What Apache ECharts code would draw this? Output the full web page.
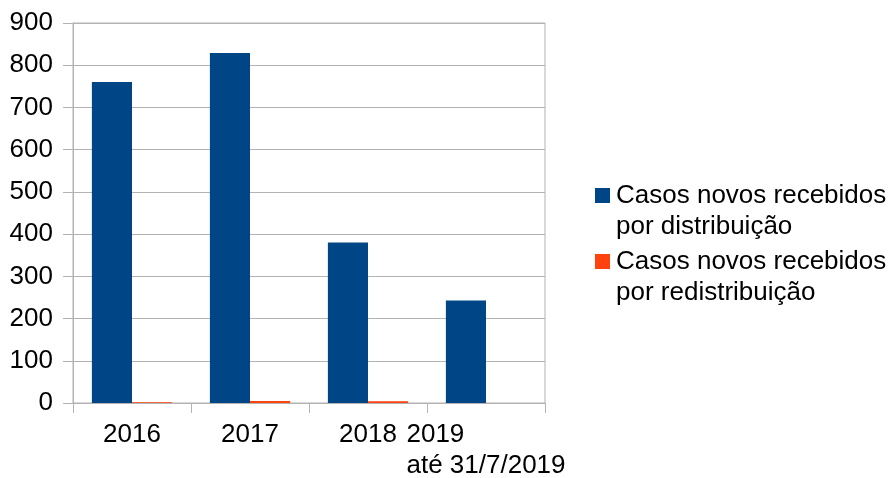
<!DOCTYPE html>
<html>
<head>
<meta charset="utf-8">
<script src="https://cdn.jsdelivr.net/npm/echarts@6/dist/echarts.min.js"></script>
<style>html,body{margin:0;padding:0;background:#fff;}#c{width:894px;height:478px;}</style>
</head>
<body>
<div id="c"></div>
<script>
const categories = ['2016', '2017', '2018', '2019\naté 31/7/2019'];
const seriesNames = ['Casos novos recebidos\npor distribuição', 'Casos novos recebidos\npor redistribuição'];
const distribuicao = [760, 829, 380, 243];
const redistribuicao = [2, 5, 4, 0];
const yTicks = { min: 0, max: 900, interval: 100 };

const FONT = 'Liberation Sans';
const GRIDC = '#b3b3b3';
const chart = echarts.init(document.getElementById('c'));
chart.setOption({
  animation: false,
  textStyle: { fontFamily: FONT },
  grid: { left: 73, right: 349, top: 23, bottom: 75, show: true, borderColor: GRIDC, borderWidth: 1, outerBoundsMode: 'none' },
  legend: {
    orient: 'vertical', left: 595, top: 149, padding: 0,
    icon: 'rect',
    itemWidth: 15, itemHeight: 15, itemGap: -27,
    formatter: function (name) { return '\n' + name; },
    textStyle: { fontFamily: FONT, fontSize: 26, color: '#000', lineHeight: 31, padding: [0, 0, 0, 1] },
    data: seriesNames
  },
  xAxis: {
    type: 'category', data: categories,
    axisLine: { show: true, lineStyle: { color: GRIDC } },
    axisTick: { show: true, length: 10, lineStyle: { color: GRIDC } },
    axisLabel: {
      interval: 0, margin: 16, color: '#000', fontFamily: FONT, fontSize: 26, lineHeight: 31,
      formatter: function (v) {
        if (v.indexOf('\n') < 0) return v;
        return v.split('\n').map((s, i) => (i === 0 ? '{l|' + s + '}' : '{c|' + s + '}')).join('\n');
      },
      rich: {
        l: { align: 'left', fontFamily: FONT, fontSize: 26, lineHeight: 31, color: '#000' },
        c: { fontFamily: FONT, fontSize: 26, lineHeight: 31, color: '#000' }
      }
    },
    splitLine: { show: false }
  },
  yAxis: {
    type: 'value', min: yTicks.min, max: yTicks.max, interval: yTicks.interval,
    axisLine: { show: true, lineStyle: { color: GRIDC } },
    axisTick: { show: true, length: 10, lineStyle: { color: GRIDC } },
    axisLabel: { margin: 20, color: '#000', fontFamily: FONT, fontSize: 26 },
    splitLine: { show: true, lineStyle: { color: GRIDC, width: 1 } }
  },
  series: [
    { name: seriesNames[0], type: 'bar', data: distribuicao, barGap: '0%', barCategoryGap: '32%', itemStyle: { color: '#004586' } },
    { name: seriesNames[1], type: 'bar', data: redistribuicao, barGap: '0%', barCategoryGap: '32%', itemStyle: { color: '#ff420e' } }
  ]
});
</script>
</body>
</html>
